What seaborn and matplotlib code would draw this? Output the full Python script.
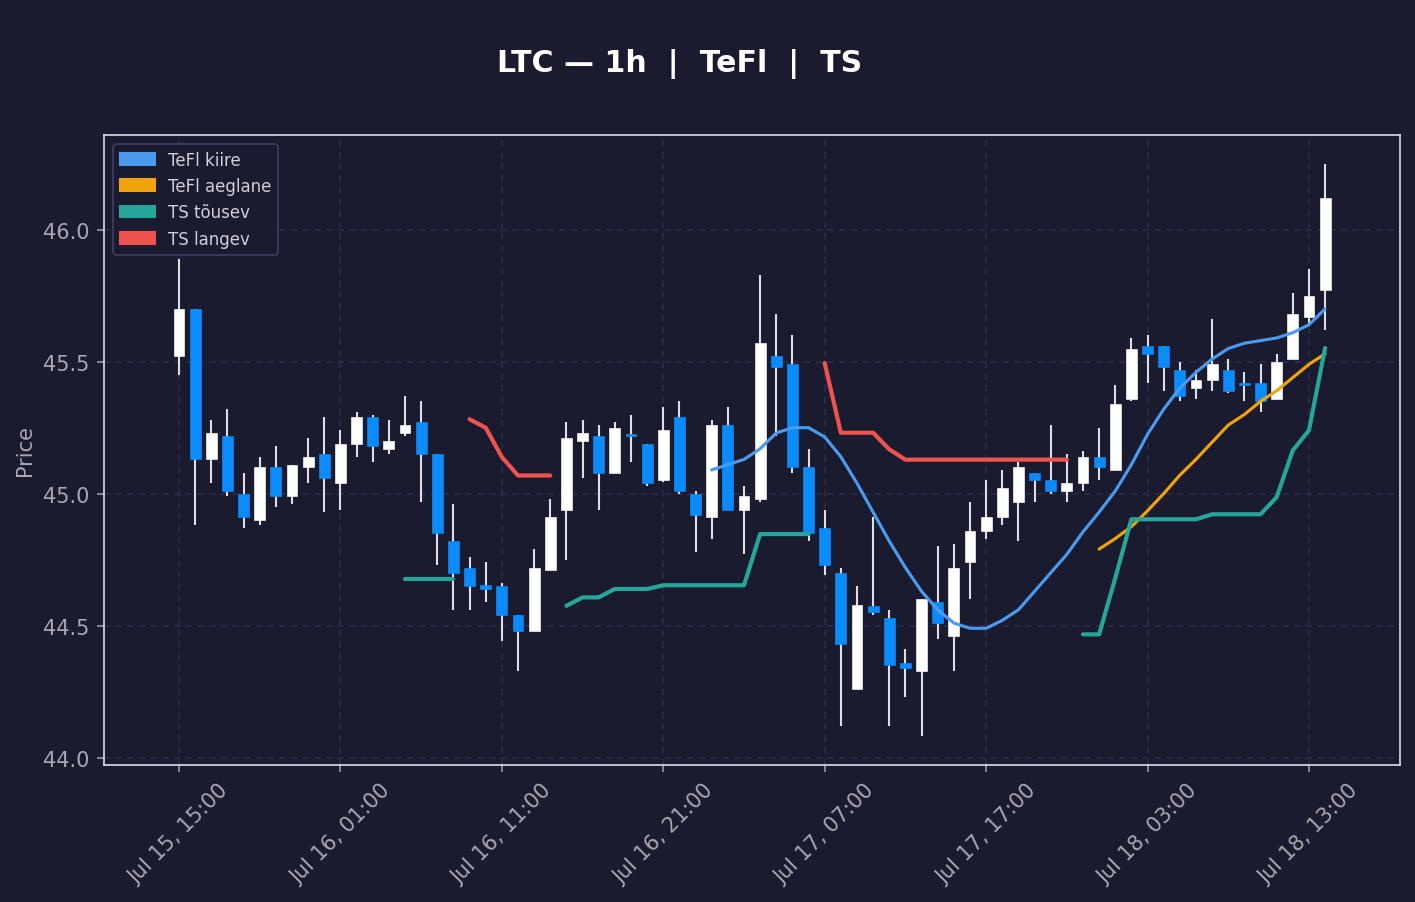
import numpy as np
import pandas as pd
import matplotlib
matplotlib.use("Agg")
import matplotlib.pyplot as plt
from matplotlib.patches import Patch
import seaborn as sns

# ---------------- data ----------------
title = "LTC — 1h  |  TeFl  |  TS"
start_time = "2025-07-15 15:00"
n_candles = 72

opens = [45.52, 45.70, 45.13, 45.22, 45.00, 44.90, 45.10, 44.99, 45.10, 45.15,
         45.04, 45.19, 45.29, 45.17, 45.23, 45.27, 45.15, 44.82, 44.72, 44.655,
         44.65, 44.54, 44.48, 44.71, 44.94, 45.20, 45.22, 45.08, 45.223, 45.19,
         45.05, 45.29, 45.00, 44.91, 45.26, 44.94, 44.98, 45.52, 45.49, 45.10,
         44.87, 44.70, 44.26, 44.575, 44.53, 44.36, 44.33, 44.59, 44.46, 44.74,
         44.86, 44.91, 44.97, 45.08, 45.05, 45.01, 45.04, 45.14, 45.09, 45.36,
         45.56, 45.56, 45.47, 45.40, 45.43, 45.47, 45.42, 45.42, 45.36, 45.51,
         45.67, 45.77]
highs = [45.89, 45.70, 45.28, 45.32, 45.08, 45.14, 45.18, 45.11, 45.21, 45.29,
         45.24, 45.31, 45.30, 45.28, 45.37, 45.35, 45.15, 44.96, 44.76, 44.74,
         44.66, 44.54, 44.79, 44.98, 45.27, 45.28, 45.26, 45.27, 45.30, 45.19,
         45.33, 45.35, 45.01, 45.28, 45.33, 45.03, 45.83, 45.68, 45.60, 45.17,
         44.94, 44.72, 44.65, 44.91, 44.56, 44.41, 44.60, 44.80, 44.81, 44.97,
         45.05, 45.09, 45.12, 45.08, 45.26, 45.15, 45.16, 45.25, 45.41, 45.59,
         45.60, 45.56, 45.50, 45.47, 45.66, 45.51, 45.46, 45.49, 45.53, 45.76,
         45.85, 46.25]
lows = [45.45, 44.88, 45.04, 44.99, 44.87, 44.88, 44.95, 44.96, 45.04, 44.93,
        44.94, 45.14, 45.12, 45.15, 45.22, 44.97, 44.73, 44.56, 44.56, 44.59,
        44.44, 44.33, 44.48, 44.71, 44.75, 45.06, 44.94, 45.08, 45.12, 45.03,
        45.045, 45.00, 44.78, 44.83, 44.94, 44.77, 44.97, 45.22, 45.08, 44.82,
        44.69, 44.12, 44.26, 44.54, 44.12, 44.23, 44.08, 44.45, 44.33, 44.60,
        44.83, 44.88, 44.82, 44.97, 45.00, 44.97, 45.01, 45.05, 45.09, 45.35,
        45.42, 45.39, 45.35, 45.36, 45.39, 45.38, 45.35, 45.31, 45.36, 45.51,
        45.64, 45.62]
closes = [45.70, 45.13, 45.23, 45.01, 44.91, 45.10, 44.99, 45.11, 45.14, 45.06,
          45.19, 45.29, 45.18, 45.20, 45.26, 45.15, 44.85, 44.70, 44.65, 44.64,
          44.54, 44.48, 44.72, 44.91, 45.21, 45.23, 45.08, 45.25, 45.219, 45.04,
          45.24, 45.01, 44.92, 45.26, 44.94, 44.99, 45.57, 45.48, 45.10, 44.85,
          44.73, 44.43, 44.58, 44.55, 44.35, 44.34, 44.60, 44.51, 44.72, 44.86,
          44.91, 45.02, 45.10, 45.05, 45.01, 45.04, 45.14, 45.10, 45.34, 45.55,
          45.53, 45.48, 45.37, 45.43, 45.49, 45.39, 45.41, 45.35, 45.50, 45.68,
          45.75, 46.12]

nan = np.nan
tefl_kiire = [nan] * 33 + [45.09, 45.11, 45.13, 45.17, 45.23, 45.25, 45.25, 45.215,
                           45.14, 45.04, 44.93, 44.82, 44.72, 44.63, 44.56, 44.51,
                           44.49, 44.49, 44.52, 44.56, 44.63, 44.70, 44.77, 44.855,
                           44.93, 45.01, 45.11, 45.225, 45.32, 45.40, 45.46, 45.51,
                           45.55, 45.57, 45.58, 45.59, 45.61, 45.64, 45.70]
tefl_aeglane = [nan] * 57 + [44.79, 44.83, 44.875, 44.935, 45.00, 45.07, 45.13,
                             45.195, 45.26, 45.30, 45.35, 45.39, 45.44, 45.49, 45.53]
ts_tousev = ([nan] * 14 + [44.677] * 4 + [nan] * 6
             + [44.575, 44.607, 44.607, 44.639, 44.639, 44.639]
             + [44.653] * 6 + [44.847] * 4 + [nan] * 16
             + [44.467, 44.467, 44.68] + [44.903] * 5 + [44.922] * 4
             + [44.987, 45.164, 45.24, 45.552])
ts_langev = ([nan] * 18 + [45.282, 45.25, 45.139, 45.069, 45.069, 45.069]
             + [nan] * 16 + [45.495, 45.231, 45.231, 45.231, 45.168]
             + [45.129] * 11 + [nan] * 16)

series_names = ["TeFl kiire", "TeFl aeglane", "TS tõusev", "TS langev"]
series_colors = ["#4a9af0", "#f0a30a", "#26a69a", "#ef5350"]
tick_every = 10

# ---------------- style ----------------
BG = "#1a1b2e"
GRID = "#2c2d4c"
TXT = "#a9a9b0"
UP = "#ffffff"
DOWN = "#0a8cff"
WICK = "#dedee6"

sns.set_theme(style="dark", rc={
    "figure.facecolor": BG, "axes.facecolor": BG, "savefig.facecolor": BG,
    "axes.edgecolor": "#dcdce4", "axes.linewidth": 0.8,
    "xtick.color": TXT, "ytick.color": TXT,
    "xtick.bottom": True, "ytick.left": True,
    "axes.labelcolor": TXT, "text.color": TXT,
})
plt.rcParams["font.family"] = ["DejaVu Sans"]

times = pd.date_range(start_time, periods=n_candles, freq="h")
x = np.arange(n_candles)

fig = plt.figure(figsize=(1415 / 150, 903 / 150), dpi=150)
ax = fig.add_axes([104 / 1415, 1 - 766 / 903, (1400 - 104) / 1415, (766 - 136) / 903])

o = np.array(opens); h = np.array(highs); l = np.array(lows); c = np.array(closes)
up = c >= o
# wicks
ax.vlines(x, l, h, color=WICK, linewidth=1.0, zorder=2)
# bodies
body_h = np.abs(c - o)
body_h = np.where(body_h < 0.006, 0.006, body_h)
bottoms = np.minimum(o, c)
ax.bar(x[up], body_h[up], bottom=bottoms[up], width=0.67, color=UP,
       edgecolor=UP, linewidth=0.3, zorder=2.5)
ax.bar(x[~up], body_h[~up], bottom=bottoms[~up], width=0.67, color=DOWN,
       edgecolor=DOWN, linewidth=0.3, zorder=2.5)

# indicator lines via seaborn
series_vals = [tefl_kiire, tefl_aeglane, ts_tousev, ts_langev]
widths = [1.5, 1.5, 2.0, 2.0]
for name, vals, col, lw in zip(series_names, series_vals, series_colors, widths):
    arr = np.array(vals, dtype=float)
    valid = ~np.isnan(arr)
    seg = np.cumsum(np.r_[True, valid[1:] != valid[:-1]])
    df = pd.DataFrame({"x": x[valid], "y": arr[valid], "seg": seg[valid]})
    sns.lineplot(data=df, x="x", y="y", units="seg", estimator=None, color=col,
                 linewidth=lw, ax=ax, zorder=3, legend=False)

ax.set_xlim(-4.646, 75.64)
ax.set_ylim(43.972, 46.359)
ax.set_yticks([44.0, 44.5, 45.0, 45.5, 46.0])
ax.set_yticklabels([f"{v:.1f}" for v in [44.0, 44.5, 45.0, 45.5, 46.0]], fontsize=10)
tick_pos = x[::tick_every]
tick_labels = [t.strftime("%b %d, %H:%M") for t in times[::tick_every]]
ax.set_xticks(tick_pos)
ax.set_xticklabels(tick_labels, rotation=45, fontsize=10)
ax.tick_params(axis="both", length=3.5, width=0.8, color="#9a9aa2")
ax.set_xlabel("")
ax.set_ylabel("Price", fontsize=10, color=TXT)
ax.grid(True, color=GRID, linestyle=(0, (4, 3)), linewidth=0.8, zorder=0)
for s in ax.spines.values():
    s.set_visible(True)
    s.set_color("#dcdce4")

handles = [Patch(facecolor=cc, edgecolor=cc, label=nm)
           for nm, cc in zip(series_names, series_colors)]
leg = ax.legend(handles=handles, loc="upper left", fontsize=8, frameon=True,
                facecolor=BG, edgecolor="#44456a", labelcolor="#d0d0d8",
                handlelength=2.1, borderaxespad=0.55)
leg.get_frame().set_linewidth(0.8)
leg.get_frame().set_alpha(0.9)

fig.text(680 / 1415, 1 - 64 / 903, title, ha="center", va="center",
         fontsize=14.4, fontweight="bold", color="#ffffff")

fig.savefig("out.png", dpi=150, facecolor=BG)
